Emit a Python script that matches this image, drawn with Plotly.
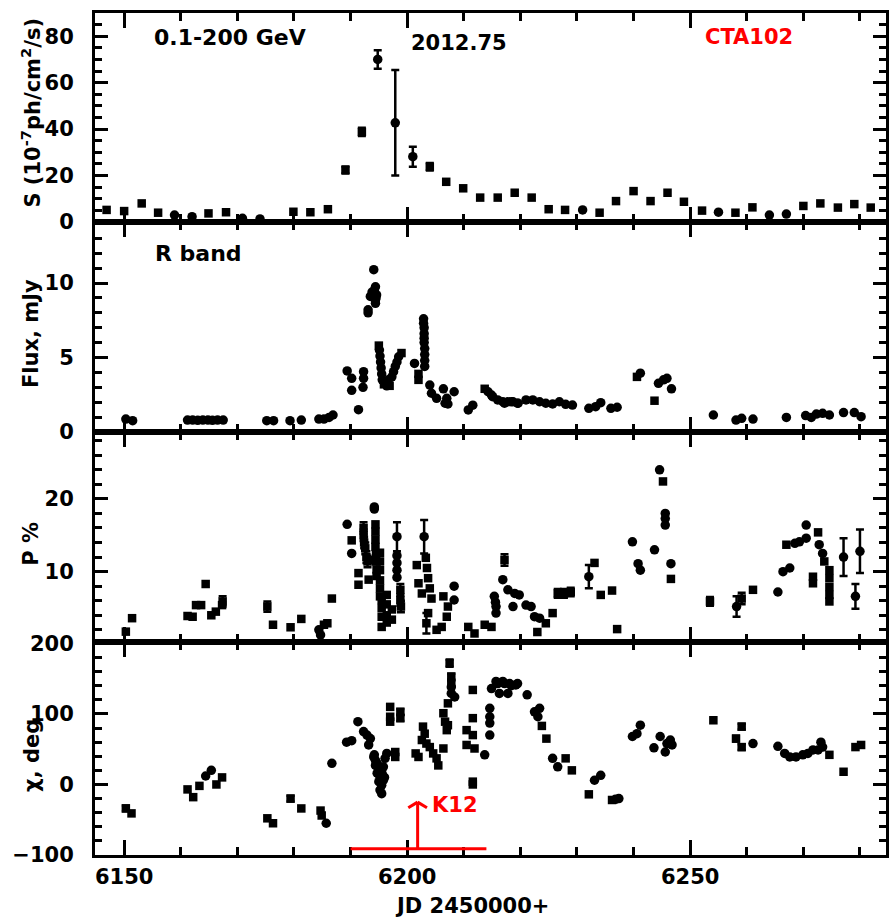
import plotly.graph_objects as go

# ---------------- Panel 1: gamma-ray flux 0.1-200 GeV ----------------
g_sq_jd = [6146.9, 6150.0, 6153.1, 6156.0, 6164.9, 6168.0, 6179.9, 6182.9, 6186.0,
           6206.9, 6209.9, 6212.9, 6216.0, 6219.0, 6222.0, 6225.0, 6227.9, 6234.0,
           6236.9, 6240.0, 6243.0, 6246.0, 6248.9, 6252.1, 6258.0, 6261.0, 6270.0,
           6273.0, 6276.1, 6279.0, 6281.9]
g_sq_s = [5.2, 4.7, 8.0, 4.0, 3.7, 4.2, 4.4, 4.2, 5.5,
          17.3, 14.5, 10.5, 10.5, 12.6, 10.5, 5.5, 5.2, 4.0,
          9.0, 13.3, 9.0, 12.6, 8.7, 4.9, 4.0, 6.3, 6.9,
          8.0, 6.2, 7.7, 6.2]
g_sqe_jd = [6189.1, 6192.0, 6204.0]
g_sqe_s = [22.4, 38.8, 23.8]
g_sqe_err = [1.5, 1.8, 1.6]
g_ci_jd = [6158.9, 6162.0, 6170.9, 6174.0, 6231.0, 6255.0, 6264.0, 6267.0]
g_ci_s = [3.0, 2.3, 1.6, 1.3, 5.2, 4.2, 3.0, 3.4]
g_cie_jd = [6194.8, 6197.9, 6201.0]
g_cie_s = [70.0, 42.7, 28.1]
g_cie_err = [4.0, 22.7, 4.3]

# ---------------- Panel 2: R band flux (mJy) ----------------
r_ci_jd = [6150.3, 6151.5,
           6161.2, 6162.1, 6163.0, 6163.9, 6164.8, 6165.6, 6166.5, 6167.5,
           6175.2, 6176.4, 6179.3, 6181.3,
           6184.4, 6185.3, 6186.2, 6186.9,
           6189.4, 6190.2, 6190.2, 6191.4, 6192.3, 6192.3, 6192.2,
           6193.1, 6193.1, 6193.5, 6193.8, 6194.4, 6194.4, 6194.4, 6194.1, 6194.6, 6194.2, 6194.5,
           6195.1, 6195.2, 6195.3, 6195.4, 6195.5, 6195.6,
           6196.1, 6196.7, 6197.3, 6197.6, 6197.9, 6198.2, 6198.5, 6196.4,
           6201.3,
           6202.9, 6202.9, 6203.0, 6203.0, 6203.0, 6203.0, 6203.1, 6203.1, 6203.1, 6203.1,
           6204.0, 6204.3, 6205.2, 6206.4, 6207.0, 6207.2, 6208.3, 6206.7,
           6210.8, 6211.6,
           6214.3, 6214.9, 6215.1, 6216.0, 6216.9, 6217.2, 6217.8, 6218.4, 6218.7, 6219.5,
           6219.6, 6221.0, 6222.2, 6223.4, 6224.5, 6225.7, 6226.9, 6228.0, 6229.2,
           6232.1, 6233.3, 6234.2, 6236.0, 6237.1,
           6241.2, 6244.4, 6245.3, 6245.9, 6246.7,
           6254.1, 6258.1, 6259.1, 6261.1, 6267.0,
           6270.4, 6271.4, 6272.3, 6273.4, 6274.6, 6277.1, 6279.0, 6280.2]
r_ci_f = [0.87, 0.76,
          0.8, 0.8, 0.78, 0.8, 0.8, 0.78, 0.8, 0.8,
          0.76, 0.76, 0.76, 0.8,
          0.87, 0.87, 0.98, 1.14,
          4.1, 3.6, 2.8, 1.5, 4.05, 3.6, 3.0,
          8.0, 8.2, 9.1, 9.4, 9.75, 8.86, 8.64, 10.9, 9.2, 9.5, 9.0,
          5.5, 5.1, 4.7, 4.3, 3.9, 3.5,
          3.3, 3.5, 3.7, 4.05, 4.4, 4.7, 5.05, 3.1,
          4.6,
          7.6, 7.3, 7.0, 6.6, 6.3, 6.0, 5.6, 5.2, 4.8, 4.4,
          3.15, 2.6, 2.26, 2.9, 2.26, 1.88, 2.7, 1.93,
          1.48, 1.8,
          2.7, 2.48, 2.37, 2.15, 2.03, 1.93, 2.03, 2.03, 2.03, 1.93,
          1.93, 2.15, 2.15, 2.03, 1.93, 1.88, 2.03, 1.86, 1.81,
          1.59, 1.7, 1.97, 1.59, 1.66,
          3.95, 3.27, 3.5, 3.6, 2.9,
          1.14, 0.8, 0.92, 0.87, 0.98,
          1.1, 0.98, 1.2, 1.25, 1.14, 1.3, 1.3, 1.03]
r_sq_jd = [6195.0, 6195.9, 6196.9, 6199.0, 6202.0, 6202.0, 6213.7, 6240.6, 6243.7]
r_sq_f = [5.8, 3.2, 3.1, 5.3, 3.9, 3.5, 2.9, 3.7, 2.1]

# ---------------- Panel 3: polarization degree P (%) ----------------
p_sq_jd = [6150.3, 6151.4, 6161.2, 6162.1, 6162.7, 6163.6, 6164.4, 6165.4, 6166.2, 6167.3,
           6176.3, 6179.4, 6181.3, 6185.3, 6185.9, 6186.7,
           6190.2, 6191.4, 6191.4, 6193.2, 6193.2,
           6194.4, 6194.4, 6194.4, 6194.4, 6194.5, 6194.5, 6194.6, 6194.6,
           6195.2, 6195.2, 6195.2, 6195.2, 6195.2, 6195.2,
           6195.5, 6195.5, 6195.5, 6195.5, 6196.4, 6196.4, 6196.4, 6196.4, 6197.3, 6197.3,
           6201.7, 6202.0, 6202.6,
           6203.3, 6203.5, 6203.7, 6204.0, 6204.3, 6203.7,
           6205.2, 6206.1, 6206.4, 6207.0, 6207.2,
           6210.8, 6211.9, 6213.7, 6214.9,
           6223.0, 6224.5, 6225.7,
           6233.1, 6234.2, 6236.2, 6237.1,
           6245.2, 6246.6, 6261.1, 6267.0, 6272.6, 6271.7, 6271.7,
           6274.6, 6274.6, 6274.6, 6274.6, 6274.6, 6273.7]
p_sq_p = [1.75, 3.6, 3.9, 3.8, 5.4, 5.4, 8.3, 4.0, 4.5, 5.4,
          2.7, 2.35, 3.5, 2.7, 2.9, 6.3,
          14.3, 9.8, 8.2, 11.6, 8.9,
          16.5, 15.5, 14.4, 13.4, 12.4, 11.4, 10.3, 9.4,
          12.6, 11.4, 10.2, 8.8, 7.7, 6.6,
          6.1, 5.0, 3.8, 2.4, 6.8, 5.5, 4.0, 3.0, 4.8, 3.4,
          10.9, 8.4, 7.0,
          11.9, 10.5, 9.1, 7.7, 6.3, 4.3,
          2.0, 2.4, 6.6, 3.8, 5.2,
          2.4, 1.5, 2.7, 2.4,
          1.7, 2.9, 4.3,
          11.2, 6.8, 7.4, 2.1,
          22.4, 9.0, 7.5, 13.7, 15.4, 9.3, 8.4,
          10.2, 9.1, 7.9, 6.8, 5.9, 11.4]
p_sqe_jd = [6167.4, 6175.3, 6192.3, 6192.3, 6192.4, 6192.6, 6192.8, 6193.0,
            6198.8, 6198.8, 6198.9, 6203.4, 6217.2, 6226.6, 6227.7, 6228.9, 6253.5, 6259.1]
p_sqe_p = [5.9, 5.2, 16.0, 15.0, 14.0, 13.2, 12.0, 11.4,
           7.5, 6.1, 5.2, 2.9, 11.6, 7.0, 7.0, 7.2, 5.9, 6.3]
p_sqe_err = [0.7, 0.7, 0.8, 0.8, 0.8, 0.8, 0.8, 0.8,
             0.8, 0.8, 0.8, 1.4, 0.8, 0.6, 0.6, 0.6, 0.6, 0.8]
p_ci_jd = [6184.4, 6184.7, 6189.4, 6190.2, 6194.2, 6194.2,
           6198.2, 6198.2, 6198.2, 6198.2,
           6208.3, 6208.3, 6215.4, 6215.6, 6215.7, 6215.7,
           6216.9, 6217.8, 6219.0, 6219.8, 6218.7, 6221.0, 6221.9, 6222.5, 6223.4,
           6239.8, 6240.8, 6241.2, 6243.7, 6244.6, 6245.6, 6245.6, 6245.6, 6246.6,
           6265.5, 6266.4, 6267.6, 6268.5, 6269.3, 6270.5, 6270.5, 6272.8, 6273.4]
p_ci_p = [2.0, 1.3, 16.5, 12.5, 18.9, 18.6,
          12.2, 11.2, 10.2, 9.2,
          8.0, 6.1, 6.6, 5.8, 5.2, 4.3,
          8.9, 7.5, 7.0, 6.8, 5.2, 5.4, 5.2, 3.8, 3.6,
          14.1, 11.1, 10.2, 13.0, 24.0, 18.0, 17.3, 16.4, 11.1,
          7.2, 10.0, 10.5, 13.9, 14.1, 14.6, 16.4, 13.7, 12.5]
p_cie_jd = [6198.2, 6203.0, 6232.1, 6258.2, 6277.1, 6279.2, 6280.0]
p_cie_p = [14.8, 14.8, 9.3, 5.2, 12.0, 6.6, 12.8]
p_cie_err = [2.0, 2.3, 1.6, 1.4, 2.6, 1.7, 3.0]

# ---------------- Panel 4: polarization angle chi (deg) ----------------
c_sq_jd = [6151.3, 6161.2, 6162.2, 6163.3, 6166.3, 6167.3, 6175.3, 6176.3, 6181.3, 6184.7, 6184.9,
           6197.0, 6197.0, 6197.0, 6197.9, 6197.9, 6201.5, 6202.0,
           6202.8, 6203.1, 6202.6, 6203.4, 6204.0, 6204.6, 6205.2, 6205.5, 6206.4,
           6206.4, 6206.7, 6207.0, 6207.2, 6207.2,
           6211.6, 6211.6, 6210.5, 6210.5, 6211.6, 6211.9, 6211.6, 6211.6,
           6223.8, 6224.6, 6228.0, 6229.1, 6232.1, 6236.2,
           6254.1, 6274.6, 6277.1, 6279.2, 6280.2]
c_sq_chi = [-41, -7, -18, -2, 0, 10, -48, -55, -34, -37, -44,
            110, 96, 89, 46, 39, 44, 39,
            82, 72, 63, 58, 53, 44, 37, 27, 51,
            101, 89, 77, 84, 115,
            134, 94, 77, 56, 70, 51, 4, 0,
            83, 65, 37, 20, -14, -22,
            91, 42, 18, 53, 56]
c_sqe_jd = [6150.3, 6179.4, 6198.8, 6198.8, 6207.5, 6207.8, 6207.8, 6258.1, 6259.1, 6259.1]
c_sqe_chi = [-34, -20, 103, 94, 172, 153, 143, 65, 82, 53]
c_sqe_err = [4, 4, 4, 4, 5, 4, 4, 4, 4, 4]
c_ci_jd = [6164.4, 6165.4, 6185.7, 6186.7, 6189.3, 6190.2, 6191.3, 6192.3, 6192.9, 6193.5, 6193.2,
           6194.1, 6194.4, 6194.7, 6195.0, 6195.2, 6195.5, 6194.7, 6195.0, 6195.2, 6195.5,
           6195.8, 6195.8, 6196.1, 6196.4, 6194.4, 6194.2, 6195.1, 6195.6, 6196.0,
           6207.8, 6208.4, 6207.8, 6213.7,
           6214.6, 6214.6, 6214.6, 6214.6,
           6214.9, 6215.7, 6216.9, 6218.1, 6219.2, 6216.3, 6217.8, 6216.0, 6217.2, 6218.4, 6219.5,
           6221.2, 6222.5, 6223.4, 6223.1,
           6225.7, 6226.6, 6233.1, 6234.2, 6237.4, 6236.8,
           6239.8, 6241.2, 6240.6,
           6243.6, 6244.7, 6245.6, 6246.5, 6246.8, 6245.9,
           6261.1, 6265.5, 6266.7, 6267.6, 6268.7, 6269.9, 6270.8, 6271.7, 6272.6, 6273.1, 6273.4]
c_ci_chi = [12, 20, -55, 30, 60, 62, 89, 75, 70, 65, 56,
            39, 27, 16, 4, -8, -13, 30, 20, 11, -1,
            6, 25, 37, 44, 34, 42, 24, 15, 10,
            129, 124, 138, 42,
            108, 96, 87, 70,
            136, 146, 146, 143, 141, 129, 129, 143, 143, 140, 143,
            127, 103, 108, 96,
            37, 25, 6, 13, -20, -21,
            68, 84, 72,
            52, 68, 46, 63, 56, 58,
            58, 54, 44, 39, 39, 42, 44, 49, 49, 60, 53]

# K12 marker (annotation)
k12_jd = 6201.85
k12_from, k12_to = 6190.0, 6214.0
k12_level, k12_tip = -91, -25

# ---------------- Axis settings ----------------
x_range = [6144.85, 6284.6]
x_ticks = [6150, 6200, 6250]
x_labels = ["6150", "6200", "6250"]

FONT = "DejaVu Sans"
RED = "#ff0000"

fig = go.Figure()


def add_pts(xs, ys, sym, n, err=None):
    tr = go.Scatter(
        x=xs, y=ys, mode="markers", xaxis="x" if n == 1 else f"x{n}",
        yaxis="y" if n == 1 else f"y{n}",
        marker=dict(symbol=sym, size=9.5 if sym == "circle" else 8.5, color="black",
                    line=dict(width=0)),
        showlegend=False, hoverinfo="skip")
    if err is not None:
        tr.error_y = dict(type="data", array=err, visible=True, color="black",
                          thickness=2.5, width=4)
    fig.add_trace(tr)


add_pts(g_sq_jd, g_sq_s, "square", 1)
add_pts(g_sqe_jd, g_sqe_s, "square", 1, g_sqe_err)
add_pts(g_ci_jd, g_ci_s, "circle", 1)
add_pts(g_cie_jd, g_cie_s, "circle", 1, g_cie_err)

add_pts(r_ci_jd, r_ci_f, "circle", 2)
add_pts(r_sq_jd, r_sq_f, "square", 2)

add_pts(p_sq_jd, p_sq_p, "square", 3)
add_pts(p_sqe_jd, p_sqe_p, "square", 3, p_sqe_err)
add_pts(p_ci_jd, p_ci_p, "circle", 3)
add_pts(p_cie_jd, p_cie_p, "circle", 3, p_cie_err)

add_pts(c_sq_jd, c_sq_chi, "square", 4)
add_pts(c_sqe_jd, c_sqe_chi, "square", 4, c_sqe_err)
add_pts(c_ci_jd, c_ci_chi, "circle", 4)

tickfont = dict(family=FONT, size=21, color="black", weight="bold")
common = dict(showline=True, linewidth=3, linecolor="black", mirror="ticks",
              ticks="inside", tickwidth=3, tickcolor="black", showgrid=False,
              zeroline=False, tickfont=tickfont, fixedrange=True)

# panel domains (bottom -> top): panel4, panel3, panel2, panel1
dom = {1: [0.7518, 1.0], 2: [0.5024, 0.7518], 3: [0.2530, 0.5024], 4: [0.0, 0.2530]}
ycfg = {
    1: dict(range=[0, 90], tick0=0, dtick=20, mdt=5),
    2: dict(range=[0, 14.1], tick0=0, dtick=5, mdt=1),
    3: dict(range=[0.33, 29.2], tick0=0, dtick=10, mdt=2),
    4: dict(range=[-100, 202], tick0=-100, dtick=100, mdt=20),
}

layout = dict(
    width=891, height=917,
    margin=dict(l=95, r=2, t=13, b=62),
    paper_bgcolor="white", plot_bgcolor="white",
    showlegend=False,
)
for n in range(1, 5):
    xk = "xaxis" if n == 1 else f"xaxis{n}"
    yk = "yaxis" if n == 1 else f"yaxis{n}"
    layout[xk] = dict(common, domain=[0, 1], range=x_range, tickmode="array",
                      tickvals=x_ticks, ticktext=x_labels, ticklen=15,
                      anchor="y" if n == 1 else f"y{n}",
                      showticklabels=(n == 4), ticklabelstandoff=1,
                      minor=dict(tick0=6150, dtick=10, ticklen=8, tickwidth=3,
                                 ticks="inside", tickcolor="black"))
    c = ycfg[n]
    layout[yk] = dict(common, domain=dom[n], range=c["range"], tick0=c["tick0"],
                      dtick=c["dtick"], ticklen=13, ticklabelstandoff=14,
                      anchor="x" if n == 1 else f"x{n}",
                      minor=dict(tick0=c["tick0"], dtick=c["mdt"], ticklen=7,
                                 tickwidth=3, ticks="inside", tickcolor="black"))
    if n > 1:
        layout[xk]["matches"] = "x"

fig.update_layout(**layout)

txt = dict(family=FONT, size=21, color="black", weight="bold")
ann = [
    dict(x=6154.9, y=79.6, xref="x", yref="y", text="0.1-200 GeV", xanchor="left",
         yanchor="middle", showarrow=False, font=dict(txt, size=22)),
    dict(x=6200.4, y=77.0, xref="x", yref="y", text="2012.75", xanchor="left",
         yanchor="middle", showarrow=False, font=txt),
    dict(x=6252.2, y=79.6, xref="x", yref="y", text="CTA102", xanchor="left",
         yanchor="middle", showarrow=False, font=dict(txt, color=RED)),
    dict(x=6155.1, y=12.0, xref="x2", yref="y2", text="R band", xanchor="left",
         yanchor="middle", showarrow=False, font=dict(txt, size=22)),
    dict(x=6204.0, y=-29.4, xref="x4", yref="y4", text="K12", xanchor="left",
         yanchor="middle", showarrow=False, font=dict(txt, color=RED)),
    # axis titles
    dict(x=-0.0806, y=0.882, xref="paper", yref="paper",
         text="S (10<sup>-7</sup>ph/cm<sup>2</sup>/s)", textangle=-90,
         showarrow=False, font=txt, xanchor="center", yanchor="middle"),
    dict(x=-0.0806, y=0.619, xref="paper", yref="paper", text="Flux, mJy",
         textangle=-90, showarrow=False, font=txt, xanchor="center", yanchor="middle"),
    dict(x=-0.0806, y=0.370, xref="paper", yref="paper", text="P %",
         textangle=-90, showarrow=False, font=txt, xanchor="center", yanchor="middle"),
    dict(x=-0.0806, y=0.118, xref="paper", yref="paper", text="χ, deg",
         textangle=-90, showarrow=False, font=txt, xanchor="center", yanchor="middle"),
    dict(x=0.477, y=-0.0605, xref="paper", yref="paper", text="JD 2450000+",
         showarrow=False, font=txt, xanchor="center", yanchor="middle"),
]
fig.update_layout(annotations=ann)

red_line = dict(color=RED, width=3)
shapes = [
    dict(type="line", xref="x4", yref="y4", x0=k12_from, x1=k12_to,
         y0=k12_level, y1=k12_level, line=red_line),
    dict(type="line", xref="x4", yref="y4", x0=k12_jd, x1=k12_jd,
         y0=k12_level, y1=k12_tip, line=red_line),
    dict(type="line", xref="x4", yref="y4", x0=k12_jd - 1.65, x1=k12_jd,
         y0=k12_tip - 8, y1=k12_tip, line=red_line),
    dict(type="line", xref="x4", yref="y4", x0=k12_jd + 1.65, x1=k12_jd,
         y0=k12_tip - 8, y1=k12_tip, line=red_line),
]
fig.update_layout(shapes=shapes)

fig.write_html("out.html")
